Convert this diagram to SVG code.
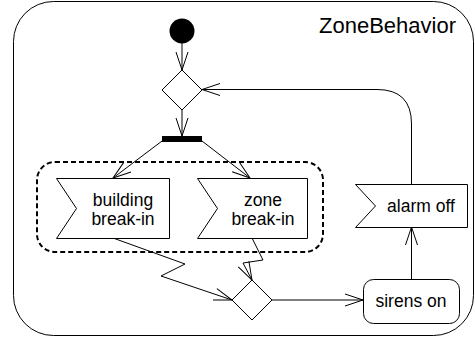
<svg xmlns="http://www.w3.org/2000/svg" width="475" height="339" viewBox="0 0 475 339">
<defs>
<style>
.ln{fill:none;stroke:#000;stroke-width:1}
.nd{fill:#fff;stroke:#000;stroke-width:1}
.tx{font-family:"Liberation Sans",Arial,sans-serif;font-size:17.5px;fill:#000;text-anchor:middle}
</style>
<marker id="arr" viewBox="0 0 20 14" refX="19" refY="7" markerWidth="20" markerHeight="14" markerUnits="userSpaceOnUse" orient="auto">
<path d="M1,1 L19,7 L1,13" fill="none" stroke="#000" stroke-width="1"/>
</marker>
</defs>
<g id="frame">
<rect x="13.5" y="1.5" width="460" height="334" rx="40" ry="40" class="nd"/>
<text x="456" y="33" style="font-family:'Liberation Sans',Arial,sans-serif;font-size:22px;text-anchor:end">ZoneBehavior</text>
</g>
<g id="region">
<rect x="37" y="162" width="286" height="90" rx="18" ry="18" fill="none" stroke="#000" stroke-width="2" stroke-dasharray="5,3"/>
</g>
<g id="connectors">
<line x1="182" y1="43" x2="182" y2="70" class="ln" marker-end="url(#arr)"/>
<line x1="182" y1="110" x2="182" y2="136" class="ln" marker-end="url(#arr)"/>
<line x1="162" y1="141" x2="113" y2="178" class="ln" marker-end="url(#arr)"/>
<line x1="202" y1="141" x2="250" y2="178" class="ln" marker-end="url(#arr)"/>
<polyline points="113,238 185,264 161,276 232,300" class="ln" marker-end="url(#arr)"/>
<polyline points="252,238 263,260 243,263 252,280" class="ln" marker-end="url(#arr)"/>
<line x1="272" y1="300" x2="363" y2="300" class="ln" marker-end="url(#arr)"/>
<line x1="411.5" y1="279" x2="411.5" y2="227" class="ln" marker-end="url(#arr)"/>
<path d="M411.5,184 V124 Q411.5,89.5 377,89.5 H202" class="ln" marker-end="url(#arr)"/>
</g>
<g id="initial">
<circle cx="182" cy="31" r="12.5" fill="#000"/>
</g>
<g id="decision1">
<polygon points="182,70 202,90 182,110 162,90" class="nd"/>
</g>
<g id="fork">
<rect x="162" y="136" width="40" height="6" fill="#000"/>
</g>
<g id="building">
<polygon points="56.5,178.5 169.5,178.5 169.5,238.5 56.5,238.5 76.5,208.5" class="nd"/>
<text x="123" y="205.5" class="tx">building</text>
<text x="123" y="225" class="tx">break-in</text>
</g>
<g id="zone">
<polygon points="197.5,178.5 307.5,178.5 307.5,238.5 197.5,238.5 217.5,208.5" class="nd"/>
<text x="263" y="205.5" class="tx">zone</text>
<text x="263" y="225" class="tx">break-in</text>
</g>
<g id="decision2">
<polygon points="252,280 272,300 252,320 232,300" class="nd"/>
</g>
<g id="alarmoff">
<polygon points="355.5,184.5 467.5,184.5 467.5,227.5 355.5,227.5 375.5,206" class="nd"/>
<text x="421" y="212" class="tx">alarm off</text>
</g>
<g id="sirenson">
<rect x="363.5" y="279.5" width="96" height="44" rx="10" ry="10" class="nd"/>
<text x="411" y="307" class="tx">sirens on</text>
</g>
</svg>
